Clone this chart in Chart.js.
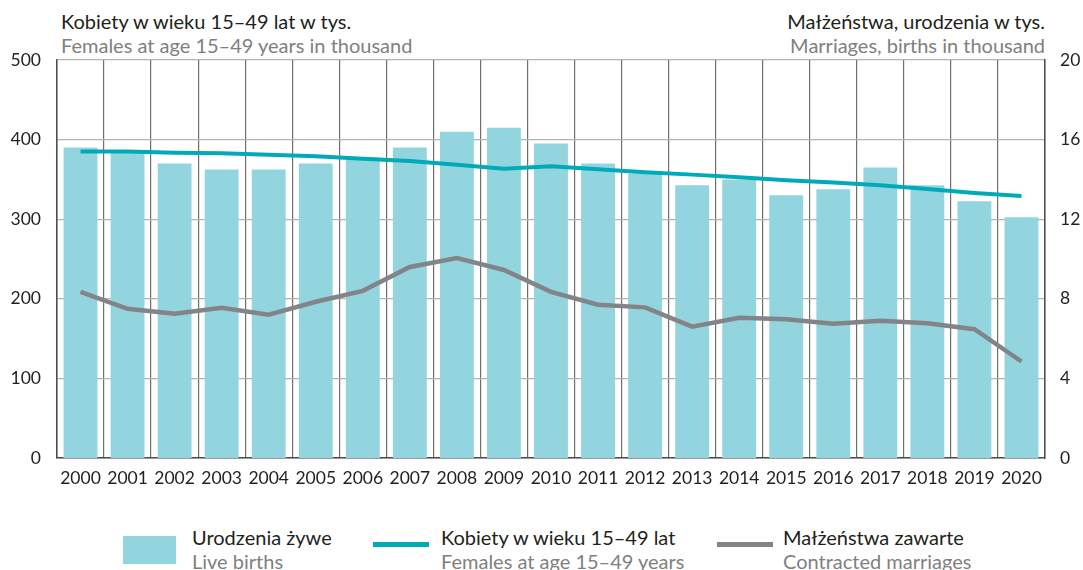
<!DOCTYPE html>
<html>
<head>
<meta charset="utf-8">
<script src="https://cdn.jsdelivr.net/npm/chart.js@4.4.1/dist/chart.umd.min.js"></script>
<style>
    body { margin: 0; background: #ffffff; font-family: Lato, "Noto Sans", sans-serif; }
    #wrap { position: relative; width: 1083px; height: 570px; overflow: hidden; }
    #chartBox { position: absolute; left: 0; top: 0; width: 1083px; height: 500px; }
    .ttl { position: absolute; font-size: 20px; line-height: 22px; white-space: nowrap; }
    .blk { color: #231f20; }
    .gry { color: #808080; }
    .legTxt { position: absolute; font-size: 20px; line-height: 24px; white-space: nowrap; }
</style>
</head>
<body>
<div id="wrap">
    <div class="ttl blk" style="left:61px; top:10px;">Kobiety w wieku 15–49 lat w tys.</div>
    <div class="ttl gry" style="left:61px; top:34px;">Females at age 15–49 years in thousand</div>
    <div class="ttl blk" style="right:38px; top:10px; text-align:right;">Małżeństwa, urodzenia w tys.</div>
    <div class="ttl gry" style="right:38px; top:34px; text-align:right;">Marriages, births in thousand</div>
    <div id="chartBox"><canvas id="demoChart"></canvas></div>

    <div style="position:absolute; left:123px; top:536px; width:53px; height:28px; background:#93d5de;"></div>
    <div class="legTxt blk" style="left:192px; top:525px;">Urodzenia żywe</div>
    <div class="legTxt gry" style="left:192px; top:549px;">Live births</div>

    <div style="position:absolute; left:373px; top:542px; width:56px; height:5px; background:#00aab9;"></div>
    <div class="legTxt blk" style="left:441px; top:525px;">Kobiety w wieku 15–49 lat</div>
    <div class="legTxt gry" style="left:441px; top:549px;">Females at age 15–49 years</div>

    <div style="position:absolute; left:717px; top:542px; width:56px; height:5px; background:#838487;"></div>
    <div class="legTxt blk" style="left:783px; top:525px;">Małżeństwa zawarte</div>
    <div class="legTxt gry" style="left:783px; top:549px;">Contracted marriages</div>
</div>
<script>
const years = ['2000', '2001', '2002', '2003', '2004', '2005', '2006', '2007', '2008', '2009', '2010',
    '2011', '2012', '2013', '2014', '2015', '2016', '2017', '2018', '2019', '2020'];

// urodzenia zywe, tys. (prawa os)
const liveBirths = [15.6, 15.4, 14.8, 14.5, 14.5, 14.8, 15.1, 15.6, 16.4, 16.6, 15.8,
    14.8, 14.3, 13.7, 14.0, 13.2, 13.5, 14.6, 13.7, 12.9, 12.1];

// kobiety 15-49, tys. (lewa os)
const females = [385, 385, 383.5, 383, 381, 379, 376, 373, 368.5, 363.5, 366.5,
    362.7, 359, 356, 352.6, 349, 346, 342.6, 338, 333, 329];

// malzenstwa zawarte, tys. (prawa os)
const marriages = [8.35, 7.5, 7.25, 7.55, 7.2, 7.85, 8.4, 9.6, 10.05, 9.45, 8.35,
    7.7, 7.57, 6.6, 7.05, 6.97, 6.75, 6.9, 6.77, 6.47, 4.85];

const leftTicks = [0, 100, 200, 300, 400, 500];
const rightTicks = [0, 4, 8, 12, 16, 20];

const tickFont = { family: 'Lato, "Noto Sans", sans-serif', size: 17.5 };
const tickColor = '#231f20';

new Chart(document.getElementById('demoChart').getContext('2d'), {
    type: 'bar',
    data: {
        labels: years,
        datasets: [{
            type: 'line',
            label: 'Kobiety w wieku 15–49 lat',
            data: females,
            yAxisID: 'yL',
            borderColor: '#00aab9',
            backgroundColor: '#00aab9',
            borderWidth: 4,
            pointRadius: 0,
            tension: 0,
            order: 1
        }, {
            type: 'line',
            label: 'Małżeństwa zawarte',
            data: marriages,
            yAxisID: 'yR',
            borderColor: '#838487',
            backgroundColor: '#838487',
            borderWidth: 4.5,
            pointRadius: 0,
            tension: 0,
            order: 2
        }, {
            label: 'Urodzenia żywe',
            data: liveBirths,
            yAxisID: 'yR',
            backgroundColor: '#93d5de',
            barPercentage: 0.72,
            categoryPercentage: 1,
            order: 3
        }]
    },
    options: {
        responsive: true,
        maintainAspectRatio: false,
        animation: false,
        layout: { padding: { top: 60, left: 0, right: 0, bottom: 0 } },
        plugins: {
            legend: { display: false },
            tooltip: { enabled: false }
        },
        scales: {
            x: {
                offset: true,
                grid: { offset: true, color: '#6f6f6f', lineWidth: 1.2, drawTicks: false },
                border: { color: '#4d4d4d', width: 1.5 },
                ticks: { font: tickFont, color: tickColor, padding: 10, maxRotation: 0, autoSkip: false },
                afterFit: function(scale) { scale.height = 42; }
            },
            yL: {
                position: 'left',
                min: 0,
                max: 500,
                afterBuildTicks: function(scale) { scale.ticks = leftTicks.map(v => ({ value: v })); },
                grid: { color: '#b3b3b3', lineWidth: 1.2, drawTicks: false },
                border: { color: '#4d4d4d', width: 1.5 },
                ticks: { font: tickFont, color: tickColor, padding: 16 },
                afterFit: function(scale) { scale.width = 57; }
            },
            yR: {
                position: 'right',
                min: 0,
                max: 20,
                afterBuildTicks: function(scale) { scale.ticks = rightTicks.map(v => ({ value: v })); },
                grid: { display: false, drawTicks: false },
                border: { color: '#4d4d4d', width: 1.5 },
                ticks: { font: tickFont, color: tickColor, padding: 15 },
                afterFit: function(scale) { scale.width = 38; }
            }
        }
    }
});
</script>
</body>
</html>
